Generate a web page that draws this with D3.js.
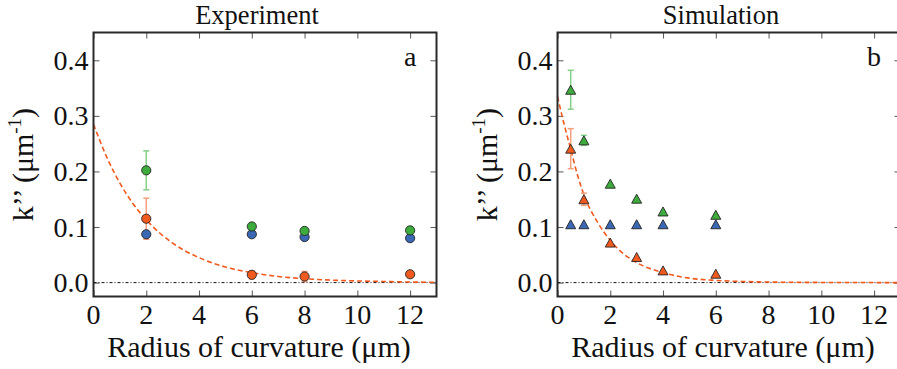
<!DOCTYPE html>
<html>
<head>
<meta charset="utf-8">
<script src="https://cdn.jsdelivr.net/npm/d3@7"></script>
<style>
  html, body { margin: 0; padding: 0; background: #fff; }
  svg { display: block; }
  text { font-family: "Liberation Serif", "Times New Roman", serif; fill: #111; }
</style>
</head>
<body>
<svg id="chart" width="897" height="369"></svg>
<script>
// Shared axis ticks
const xTicks = [0, 2, 4, 6, 8, 10, 12];
const yTicks = [0.0, 0.1, 0.2, 0.3, 0.4];
const yTickLabels = ["0.0", "0.1", "0.2", "0.3", "0.4"];

// Panel a: experiment (circles)
const expX = [2, 6, 8, 12];
const expGreen = [0.202, 0.101, 0.093, 0.094];
const expGreenErr = [0.035, 0, 0, 0];
const expOrange = [0.115, 0.014, 0.011, 0.015];
const expOrangeErr = [0.037, 0.007, 0.009, 0];
const expBlue = [0.087, 0.087, 0.082, 0.080];
const expFitX = [0, 0.5, 1, 1.5, 2, 3, 4, 5, 6, 7, 8, 9, 10, 11, 12, 13];
const expFitY = [0.285, 0.226, 0.179, 0.142, 0.113, 0.071, 0.045, 0.028, 0.018, 0.011, 0.007, 0.0045, 0.003, 0.002, 0.001, 0.0007];

// Panel b: simulation (triangles)
const simX = [0.5, 1, 2, 3, 4, 6];
const simGreen = [0.347, 0.256, 0.178, 0.151, 0.128, 0.122];
const simGreenErr = [0.035, 0.009, 0, 0, 0, 0];
const simOrange = [0.241, 0.150, 0.072, 0.046, 0.022, 0.016];
const simOrangeErr = [0.036, 0.011, 0, 0, 0, 0];
const simBlue = [0.105, 0.105, 0.105, 0.105, 0.105, 0.105];
const simFitX = [0, 0.25, 0.5, 0.75, 1, 1.5, 2, 2.5, 3, 4, 5, 6, 7, 8, 10, 13];
const simFitY = [0.335, 0.285, 0.24, 0.195, 0.158, 0.11, 0.076, 0.052, 0.036, 0.018, 0.008, 0.004, 0.002, 0.001, 0.0003, 0];

const colors = {
  green: "#3dac3d", greenBar: "#86cf86",
  orange: "#f05a1e", orangeBar: "#f4a07c",
  blue: "#3a68b5"
};

const svg = d3.select("#chart");

function drawPanel(opts) {
  const { left, top, width, height, title, letter, marker,
          xs, green, greenErr, orange, orangeErr, blue, fitX, fitY } = opts;
  const x = d3.scaleLinear().domain([0, 13]).range([left, left + width]);
  const y = d3.scaleLinear().domain([-0.025, 0.45]).range([top + height, top]);
  const g = svg.append("g");

  // inward ticks on all four sides
  const tickLen = 6;
  const axB = d3.axisBottom(x).tickValues(xTicks).tickSize(-tickLen).tickFormat("");
  const axT = d3.axisTop(x).tickValues(xTicks).tickSize(-tickLen).tickFormat("");
  const axL = d3.axisLeft(y).tickValues(yTicks).tickSize(-tickLen).tickFormat("");
  const axR = d3.axisRight(y).tickValues(yTicks).tickSize(-tickLen).tickFormat("");
  [[axB, `translate(0,${top + height})`], [axT, `translate(0,${top})`],
   [axL, `translate(${left},0)`], [axR, `translate(${left + width},0)`]].forEach(([ax, tr]) => {
    const a = g.append("g").attr("transform", tr).call(ax);
    a.select(".domain").remove();
    a.selectAll("line").attr("stroke", "#555").attr("stroke-width", 1);
  });

  // tick labels
  g.append("g").selectAll("text").data(xTicks).join("text")
    .attr("x", d => x(d)).attr("y", top + height + 27)
    .attr("text-anchor", "middle").attr("font-size", 28).text(d => d);
  g.append("g").selectAll("text").data(yTicks).join("text")
    .attr("x", left - 5).attr("y", d => y(d)).attr("dy", "0.34em")
    .attr("text-anchor", "end").attr("font-size", 28).text((d, i) => yTickLabels[i]);

  // axis titles
  g.append("text").attr("x", left + width / 2 - 6).attr("y", 357)
    .attr("text-anchor", "middle").attr("font-size", 30).text("Radius of curvature (μm)");
  const yl = g.append("text")
    .attr("transform", `translate(${left - 61},${top + height / 2}) rotate(-90)`)
    .attr("text-anchor", "middle").attr("font-size", 30);
  yl.append("tspan").text("k’’ (μm");
  yl.append("tspan").attr("font-size", 19).attr("dy", -12).text("-1");
  yl.append("tspan").attr("dy", 12).text(")");

  // panel title and letter
  g.append("text").attr("x", left + width / 2 - 8).attr("y", 23.5)
    .attr("text-anchor", "middle").attr("font-size", 26.5).text(title);
  g.append("text").attr("x", x(12)).attr("y", y(0.4)).attr("dy", "0.2em")
    .attr("text-anchor", "middle").attr("font-size", 28).text(letter);

  // zero reference line
  g.append("line").attr("x1", left).attr("x2", left + width)
    .attr("y1", y(0)).attr("y2", y(0))
    .attr("stroke", "#111").attr("stroke-width", 1).attr("stroke-dasharray", "3,2,1,2");

  // exponential fit
  const line = d3.line().x((d, i) => x(fitX[i])).y(d => y(d)).curve(d3.curveMonotoneX);
  g.append("path").datum(fitY).attr("d", line).attr("fill", "none")
    .attr("stroke", colors.orange).attr("stroke-width", 1.6).attr("stroke-dasharray", "5,3");

  // error bars
  function errBars(vals, errs, col) {
    const data = xs.map((xv, i) => ({ x: xv, v: vals[i], e: errs[i] })).filter(d => d.e > 0);
    const eg = g.append("g").attr("stroke", col).attr("stroke-width", 1.5);
    eg.selectAll(".v").data(data).join("line")
      .attr("x1", d => x(d.x)).attr("x2", d => x(d.x))
      .attr("y1", d => y(d.v - d.e)).attr("y2", d => y(d.v + d.e));
    eg.selectAll(".c1").data(data).join("line")
      .attr("x1", d => x(d.x) - 3).attr("x2", d => x(d.x) + 3)
      .attr("y1", d => y(d.v + d.e)).attr("y2", d => y(d.v + d.e));
    eg.selectAll(".c2").data(data).join("line")
      .attr("x1", d => x(d.x) - 3).attr("x2", d => x(d.x) + 3)
      .attr("y1", d => y(d.v - d.e)).attr("y2", d => y(d.v - d.e));
  }
  errBars(green, greenErr, colors.greenBar);
  errBars(orange, orangeErr, colors.orangeBar);

  // markers
  function markers(vals, col) {
    const data = xs.map((xv, i) => ({ x: xv, v: vals[i] }));
    const mg = g.append("g");
    if (marker === "circle") {
      mg.selectAll("circle").data(data).join("circle")
        .attr("cx", d => x(d.x)).attr("cy", d => y(d.v)).attr("r", 4.6)
        .attr("fill", col).attr("stroke", "#222").attr("stroke-width", 0.9);
    } else {
      const w = 10, h = 9;
      mg.selectAll("path").data(data).join("path")
        .attr("d", d => `M${x(d.x)},${y(d.v) - h / 2}L${x(d.x) + w / 2},${y(d.v) + h / 2}L${x(d.x) - w / 2},${y(d.v) + h / 2}Z`)
        .attr("fill", col).attr("stroke", "#222").attr("stroke-width", 0.9);
    }
  }
  markers(blue, colors.blue);
  markers(green, colors.green);
  markers(orange, colors.orange);

  // frame
  g.append("rect").attr("x", left).attr("y", top).attr("width", width).attr("height", height)
    .attr("fill", "none").attr("stroke", "#2a2a2a").attr("stroke-width", 2);
}

drawPanel({
  left: 93.5, top: 32.5, width: 343, height: 264, title: "Experiment", letter: "a", marker: "circle",
  xs: expX, green: expGreen, greenErr: expGreenErr, orange: expOrange, orangeErr: expOrangeErr,
  blue: expBlue, fitX: expFitX, fitY: expFitY
});
drawPanel({
  left: 557.5, top: 32.5, width: 343, height: 264, title: "Simulation", letter: "b", marker: "triangle",
  xs: simX, green: simGreen, greenErr: simGreenErr, orange: simOrange, orangeErr: simOrangeErr,
  blue: simBlue, fitX: simFitX, fitY: simFitY
});
</script>
</body>
</html>
